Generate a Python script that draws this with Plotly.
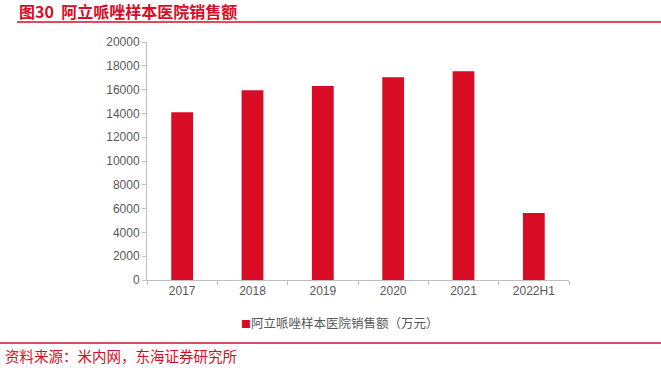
import plotly.graph_objects as go

categories = ["2017", "2018", "2019", "2020", "2021", "2022H1"]
sales = [14100, 15950, 16300, 17030, 17540, 5630]
series_name = "阿立哌唑样本医院销售额（万元）"
title_text = "图30  阿立哌唑样本医院销售额"
source_text = "资料来源：米内网，东海证券研究所"

RED = "#D80C24"
FONT = "Noto Sans CJK SC"
NUMFONT = "Arial, Liberation Sans"

L, R, T, B = 147, 92, 42, 88
plot_w = 661 - L - R
plot_h = 368 - T - B
def px_x(x): return (x - L) / plot_w
def px_y(y): return (368 - B - y) / plot_h

fig = go.Figure()
fig.add_trace(go.Bar(x=categories, y=sales, name=series_name, showlegend=False,
                     marker=dict(color=RED, line=dict(width=0)), width=0.31))

fig.update_layout(
    width=661, height=368,
    margin=dict(l=L, r=R, t=T, b=B, autoexpand=False),
    paper_bgcolor="white", plot_bgcolor="white",
    font=dict(family=FONT, size=12, color="#595959"),
    showlegend=False,
    xaxis=dict(type="category", showline=True, linecolor="#BFBFBF", linewidth=1,
               ticks="outside", tickson="boundaries", ticklen=4, tickcolor="#BFBFBF",
               showgrid=False, automargin=False, fixedrange=True,
               tickfont=dict(size=12, family=NUMFONT, color="#595959")),
    yaxis=dict(range=[0, 20000], dtick=2000, tickformat="d", showline=True,
               linecolor="#BFBFBF", linewidth=1, ticks="outside", ticklen=4,
               tickcolor="#BFBFBF", showgrid=False, zeroline=False, automargin=False,
               fixedrange=True,
               tickfont=dict(size=12, family=NUMFONT, color="#595959")),
)

# legend drawn as text with a small square key
fig.add_annotation(xref="paper", yref="paper", x=px_x(239), y=px_y(322),
                   text=f"<span style='color:{RED};font-size:10px'>■</span>{series_name}",
                   showarrow=False, xanchor="left", yanchor="middle",
                   font=dict(size=12.5, color="#595959", family=FONT))
fig.add_annotation(xref="paper", yref="paper", x=px_x(17), y=px_y(11),
                   text="<b>" + title_text + "</b>",
                   showarrow=False, xanchor="left", yanchor="middle",
                   font=dict(size=16, color=RED, family=FONT))
fig.add_annotation(xref="paper", yref="paper", x=px_x(3), y=px_y(355), text=source_text,
                   showarrow=False, xanchor="left", yanchor="middle",
                   font=dict(size=14.5, color=RED, family=FONT))
fig.add_shape(type="line", xref="paper", yref="paper", x0=px_x(17), x1=px_x(661),
              y0=px_y(22), y1=px_y(22), line=dict(color=RED, width=1.5))
fig.add_shape(type="line", xref="paper", yref="paper", x0=px_x(0), x1=px_x(661),
              y0=px_y(343), y1=px_y(343), line=dict(color=RED, width=1.5))

fig.write_html("out.html", config={"displayModeBar": False},
               post_script="document.body.style.margin='0';document.body.style.overflow='hidden';")
